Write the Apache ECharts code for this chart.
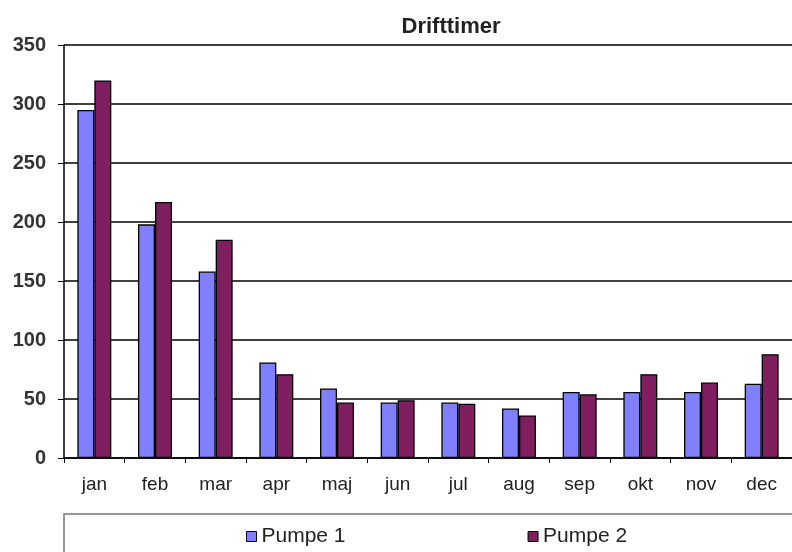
<!DOCTYPE html>
<html><head><meta charset="utf-8">
<script src="https://cdn.jsdelivr.net/npm/echarts@6/dist/echarts.min.js"></script>
<style>html,body{margin:0;padding:0;background:#fff}#c{width:792px;height:552px}</style>
</head><body><div id="c"></div>
<script>
const categories = ['jan','feb','mar','apr','maj','jun','jul','aug','sep','okt','nov','dec'];
const pumpe1 = [295, 198, 158, 81, 59, 47, 47, 42, 56, 56, 56, 63];
const pumpe2 = [320, 217, 185, 71, 47, 49, 46, 36, 54, 71, 64, 88];
const seriesNames = ['Pumpe 1', 'Pumpe 2'];
const yTicks = {min: 0, max: 350, interval: 50};

const chart = echarts.init(document.getElementById('c'), null, {renderer: 'canvas'});
const font = 'Arial, "Liberation Sans", sans-serif';
chart.setOption({
  animation: false,
  backgroundColor: '#fff',
  title: {
    text: 'Drifttimer', left: 446, top: 11, textAlign: 'center',
    textStyle: {fontFamily: font, fontSize: 22, fontWeight: 'bold', color: '#222'}
  },
  grid: {left: 64, right: 0, top: 45, bottom: 94, containLabel: false},
  graphic: [{
    type: 'rect', shape: {x: 64, y: 514, width: 760, height: 60},
    style: {fill: '#fff', stroke: '#777', lineWidth: 1.5}, z: -1
  }],
  legend: {
    data: seriesNames, left: 246, top: 526, padding: 0, itemWidth: 10, itemHeight: 10,
    itemGap: 182, icon: 'rect',
    itemStyle: {borderColor: '#000', borderWidth: 1},
    textStyle: {fontFamily: font, fontSize: 21, color: '#222'}
  },
  xAxis: {
    type: 'category', data: categories,
    axisLine: {lineStyle: {color: '#000', width: 1.5}},
    axisTick: {show: true, alignWithLabel: false, length: 5, lineStyle: {color: '#000'}},
    axisLabel: {fontFamily: font, fontSize: 19, color: '#222', margin: 17}
  },
  yAxis: {
    type: 'value', min: yTicks.min, max: yTicks.max, interval: yTicks.interval,
    axisLine: {show: true, lineStyle: {color: '#000', width: 1.5}},
    axisTick: {show: true, length: 6, lineStyle: {color: '#000'}},
    splitLine: {lineStyle: {color: '#000', width: 1.5}},
    axisLabel: {fontFamily: font, fontSize: 20, fontWeight: 'bold', color: '#333', margin: 18}
  },
  series: [
    {name: seriesNames[0], type: 'bar', data: pumpe1, barGap: '0%', barCategoryGap: '44%',
     itemStyle: {color: '#8080FF', borderColor: '#000', borderWidth: 1.3}},
    {name: seriesNames[1], type: 'bar', data: pumpe2, barGap: '0%', barCategoryGap: '44%',
     itemStyle: {color: '#7F1F5F', borderColor: '#000', borderWidth: 1.3}}
  ]
});
</script></body></html>
